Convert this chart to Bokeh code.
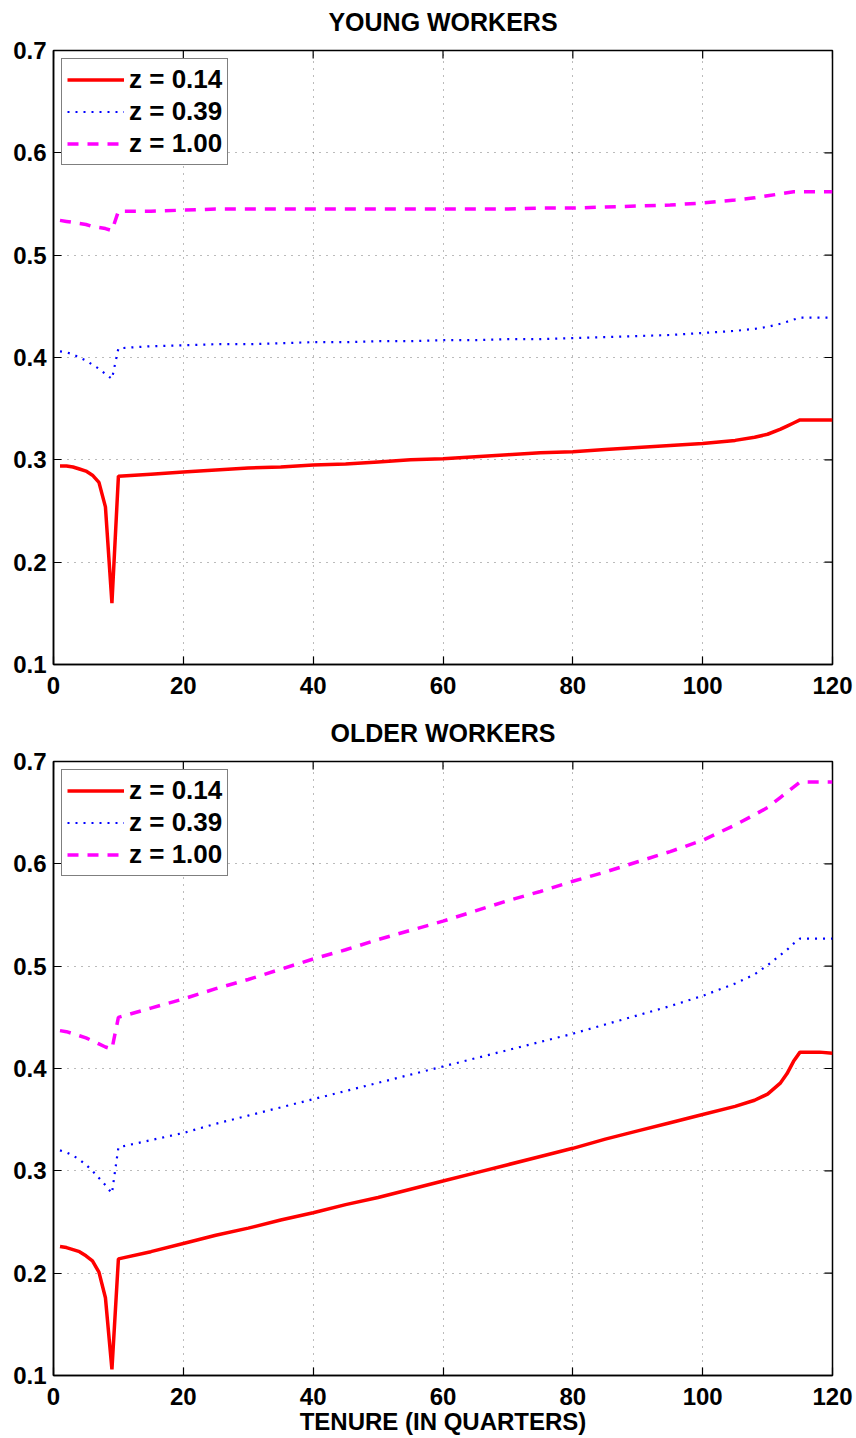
import math
from bokeh.plotting import figure
from bokeh.models import (FixedTicker, Range1d, Legend, LegendItem,
                          PrintfTickFormatter, LinearAxis)
from bokeh.layouts import column
from bokeh.embed import file_html
from bokeh.resources import INLINE

# ---------------- data ----------------
tenure = [1, 2, 3, 4, 5, 6, 7, 8, 9, 10, 15, 20, 25, 30, 35, 40, 45, 50, 55, 60,
          65, 70, 75, 80, 85, 90, 95, 100, 105, 108, 110, 112, 113, 114, 115, 118, 120]

young_z014 = [0.294, 0.294, 0.293, 0.291, 0.289, 0.285, 0.278, 0.254, 0.160, 0.284,
              0.286, 0.288, 0.290, 0.292, 0.293, 0.295, 0.296, 0.298, 0.300, 0.301,
              0.303, 0.305, 0.307, 0.308, 0.310, 0.312, 0.314, 0.316, 0.319, 0.322,
              0.325, 0.330, 0.333, 0.336, 0.339, 0.339, 0.339]
young_z039 = [0.406, 0.405, 0.403, 0.400, 0.397, 0.393, 0.389, 0.384, 0.379, 0.409,
              0.411, 0.412, 0.413, 0.413, 0.414, 0.415, 0.415, 0.416, 0.416, 0.417,
              0.417, 0.418, 0.418, 0.419, 0.420, 0.421, 0.422, 0.424, 0.426, 0.428,
              0.430, 0.433, 0.435, 0.437, 0.439, 0.439, 0.439]
young_z100 = [0.534, 0.533, 0.532, 0.531, 0.530, 0.528, 0.527, 0.526, 0.524, 0.543,
              0.543, 0.544, 0.545, 0.545, 0.545, 0.545, 0.545, 0.545, 0.545, 0.545,
              0.545, 0.545, 0.546, 0.546, 0.547, 0.548, 0.549, 0.551, 0.554, 0.556,
              0.558, 0.560, 0.561, 0.562, 0.562, 0.562, 0.562]

older_z014 = [0.226, 0.225, 0.223, 0.221, 0.217, 0.212, 0.201, 0.176, 0.106, 0.214,
              0.221, 0.229, 0.237, 0.244, 0.252, 0.259, 0.267, 0.274, 0.282, 0.290,
              0.298, 0.306, 0.314, 0.322, 0.331, 0.339, 0.347, 0.355, 0.363, 0.369,
              0.375, 0.386, 0.395, 0.407, 0.416, 0.416, 0.415]
older_z039 = [0.320, 0.318, 0.315, 0.311, 0.306, 0.300, 0.293, 0.286, 0.278, 0.323,
              0.330, 0.337, 0.346, 0.354, 0.362, 0.370, 0.378, 0.386, 0.394, 0.402,
              0.410, 0.418, 0.426, 0.434, 0.443, 0.452, 0.461, 0.471, 0.483, 0.492,
              0.501, 0.511, 0.516, 0.522, 0.527, 0.527, 0.527]
older_z100 = [0.437, 0.436, 0.434, 0.432, 0.430, 0.427, 0.424, 0.421, 0.419, 0.450,
              0.459, 0.468, 0.478, 0.487, 0.497, 0.507, 0.516, 0.526, 0.535, 0.544,
              0.554, 0.564, 0.573, 0.583, 0.592, 0.602, 0.612, 0.623, 0.638, 0.648,
              0.655, 0.665, 0.670, 0.675, 0.680, 0.680, 0.680]

legend_labels = ["z = 0.14", "z = 0.39", "z = 1.00"]
x_ticks = [0, 20, 40, 60, 80, 100, 120]
y_ticks = [0.1, 0.2, 0.3, 0.4, 0.5, 0.6, 0.7]

FONT = "Liberation Sans"
TICK_LEN = 8


def style_axis(ax):
    ax.axis_line_color = "black"
    ax.axis_line_width = 1.5
    ax.major_tick_in = TICK_LEN
    ax.major_tick_out = 0
    ax.minor_tick_in = 0
    ax.minor_tick_out = 0
    ax.major_tick_line_color = "black"
    ax.major_tick_line_width = 1.2
    ax.major_label_text_font = FONT
    ax.major_label_text_font_style = "bold"
    ax.major_label_text_color = "black"
    ax.major_label_text_font_size = "24px"


def make_panel(title, series, border_top, border_bottom, xlabel=None):
    h = 614 + border_top + border_bottom
    p = figure(width=856, height=h, frame_width=779, frame_height=614,
               min_border_left=53, min_border_right=24,
               min_border_top=border_top, min_border_bottom=border_bottom,
               x_range=Range1d(x_ticks[0], x_ticks[-1]),
               y_range=Range1d(y_ticks[0], y_ticks[-1]),
               output_backend="svg", toolbar_location=None)
    p.outline_line_color = "black"
    p.outline_line_width = 1.5
    p.background_fill_color = "white"
    p.border_fill_color = "white"

    # bottom and left axes (configured before any extra axis is added)
    bottom = p.below[0]
    left = p.left[0]
    bottom.ticker = FixedTicker(ticks=x_ticks)
    left.ticker = FixedTicker(ticks=y_ticks)
    left.formatter = PrintfTickFormatter(format="%.1f")
    style_axis(bottom)
    style_axis(left)
    bottom.major_label_standoff = 12
    left.major_label_standoff = 7
    if xlabel:
        bottom.axis_label = xlabel
        bottom.axis_label_text_font = FONT
        bottom.axis_label_text_font_style = "bold"
        bottom.axis_label_text_font_size = "24px"
        bottom.axis_label_text_color = "black"
        bottom.axis_label_standoff = 0

    # panel title: label of a tick-less axis above the box
    top = LinearAxis(ticker=FixedTicker(ticks=[]), axis_label=title)
    top.axis_line_color = None
    top.major_tick_line_color = None
    top.minor_tick_line_color = None
    top.major_tick_in = 0
    top.major_tick_out = 0
    top.minor_tick_in = 0
    top.minor_tick_out = 0
    top.major_label_standoff = 0
    top.axis_label_standoff = 15
    top.axis_label_text_font = FONT
    top.axis_label_text_font_style = "bold"
    top.axis_label_text_font_size = "25px"
    top.axis_label_text_color = "black"
    p.add_layout(top, "above")

    # inward ticks on the top and right edges of the box (MATLAB style)
    p.ray(x=x_ticks, y=[y_ticks[-1]] * len(x_ticks), length=TICK_LEN,
          angle=-math.pi / 2, length_units="screen",
          line_color="black", line_width=1.2)
    p.ray(x=[x_ticks[-1]] * len(y_ticks), y=y_ticks, length=TICK_LEN,
          angle=math.pi, length_units="screen",
          line_color="black", line_width=1.2)

    for g, t in ((p.xgrid[0], x_ticks), (p.ygrid[0], y_ticks)):
        g.grid_line_color = "#555555"
        g.grid_line_alpha = 0.8
        g.grid_line_width = 1
        g.grid_line_dash = "1 6"
        g.ticker = FixedTicker(ticks=t)

    r1 = p.line(tenure, series[0], line_color="#ff0000", line_width=3.5)
    r2 = p.line(tenure, series[1], line_color="#0000ff", line_width=2.2,
                line_dash="2 6")
    r3 = p.line(tenure, series[2], line_color="#ff00ff", line_width=3.5,
                line_dash="11 9")

    leg = Legend(items=[LegendItem(label=legend_labels[0], renderers=[r1]),
                        LegendItem(label=legend_labels[1], renderers=[r2]),
                        LegendItem(label=legend_labels[2], renderers=[r3])],
                 location="top_left")
    leg.margin = 8
    leg.padding = 5
    leg.spacing = 1
    leg.glyph_width = 57
    leg.glyph_height = 31
    leg.label_height = 31
    leg.label_standoff = 5
    leg.label_text_font = FONT
    leg.label_text_font_style = "bold"
    leg.label_text_font_size = "26px"
    leg.label_text_color = "black"
    leg.border_line_color = "black"
    leg.border_line_width = 1.5
    leg.background_fill_color = "white"
    leg.background_fill_alpha = 1
    p.add_layout(leg)
    return p


p1 = make_panel("YOUNG WORKERS", [young_z014, young_z039, young_z100], 50, 46)
p2 = make_panel("OLDER WORKERS", [older_z014, older_z039, older_z100], 51, 63,
                xlabel="TENURE (IN QUARTERS)")

layout = column(p1, p2, spacing=0)

with open("out.html", "w") as f:
    f.write(file_html(layout, INLINE))
